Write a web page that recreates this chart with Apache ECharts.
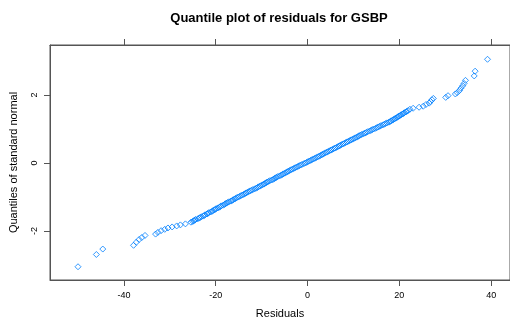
<!DOCTYPE html>
<html>
<head>
<meta charset="utf-8">
<script src="https://cdn.jsdelivr.net/npm/echarts@6/dist/echarts.min.js"></script>
<style>
html,body{margin:0;padding:0;background:#fff;}
#chart{width:510px;height:326px;}
</style>
</head>
<body>
<div id="chart"></div>
<script>
// Sorted residuals (x)
const residuals = [
  -50.0, -46.0, -44.6, -37.9, -37.3, -36.7, -36.1, -35.4, -33.1, -32.6, -31.9, -31.1, -30.4, -29.5, -28.5, -27.7, -26.6,
  -25.4, -25.0, -24.8, -24.6, -24.4, -23.9, -23.6, -23.4, -23.1, -22.7, -22.5, -22.3, -21.9, -21.7, -21.5, -21.1, -20.8, -20.6, -20.3,
  -20.1, -19.9, -19.5, -19.2, -19.0, -18.8, -18.4, -18.1, -17.9, -17.7, -17.4, -17.1, -16.7, -16.4, -16.2, -15.9, -15.7, -15.4,
  -15.1, -14.8, -14.5, -14.2, -13.9, -13.6, -13.4, -13.1, -12.8, -12.5, -12.2, -11.9, -11.5, -11.2, -10.9, -10.7, -10.4, -10.1,
  -9.8, -9.5, -9.3, -9.0, -8.8, -8.5, -8.2, -7.8, -7.5, -7.2, -7.0, -6.8, -6.5, -6.1, -5.8, -5.5, -5.3, -5.0, -4.7, -4.4, -4.2,
  -3.9, -3.6, -3.3, -3.0, -2.7, -2.4, -2.1, -1.8, -1.5, -1.2, -0.8, -0.5, -0.2, 0.1, 0.4, 0.7, 1.0, 1.3, 1.6, 1.9, 2.2, 2.5,
  2.8, 3.1, 3.3, 3.6, 3.9, 4.2, 4.5, 4.8, 5.1, 5.4, 5.7, 6.0, 6.3, 6.6, 6.9, 7.1, 7.4, 7.7, 8.0, 8.3, 8.6, 8.9, 9.2, 9.5, 9.8,
  10.1, 10.4, 10.7, 11.0, 11.2, 11.5, 11.8, 12.2, 12.5, 12.8, 13.1, 13.5, 13.8, 14.1, 14.4,
  14.8, 15.1, 15.4, 15.7, 16.0, 16.4, 16.7, 17.0, 17.3, 17.7, 18.0, 18.2, 18.5, 18.7, 19.0, 19.2, 19.5, 19.7, 19.9, 20.2,
  20.4, 20.7, 20.9, 21.1, 21.4, 21.6, 21.9,
  22.3, 23.0, 24.3, 25.2, 25.8, 26.5, 26.8, 27.1, 27.4, 30.1, 30.6, 32.2, 32.6, 33.1, 33.4, 33.8, 34.1, 34.4, 36.3, 36.5, 39.2
];
// Matching quantiles of the standard normal (y)
const normalQuantiles = [
  -3.05, -2.69, -2.53, -2.42, -2.33, -2.25, -2.19, -2.13, -2.09, -2.04, -1.99, -1.95, -1.91, -1.88, -1.85, -1.82, -1.79,
  -1.74, -1.72, -1.70, -1.68, -1.66, -1.64, -1.62, -1.60, -1.58, -1.56, -1.54, -1.52, -1.50, -1.48, -1.46, -1.44, -1.42, -1.40, -1.38,
  -1.36, -1.34, -1.32, -1.30, -1.28, -1.26, -1.24, -1.22, -1.20, -1.18, -1.16, -1.14, -1.12, -1.10, -1.08, -1.06, -1.04, -1.02,
  -1.00, -0.98, -0.96, -0.94, -0.92, -0.90, -0.88, -0.86, -0.84, -0.82, -0.80, -0.78, -0.76, -0.74, -0.72, -0.70, -0.68, -0.66,
  -0.64, -0.62, -0.60, -0.58, -0.56, -0.54, -0.52, -0.50, -0.48, -0.46, -0.44, -0.42, -0.40, -0.38, -0.36, -0.34, -0.32, -0.30, -0.28, -0.26, -0.24,
  -0.22, -0.20, -0.18, -0.16, -0.14, -0.12, -0.10, -0.08, -0.06, -0.04, -0.02, 0.00, 0.02, 0.04, 0.06, 0.08, 0.10, 0.12, 0.14, 0.16, 0.18, 0.20,
  0.22, 0.24, 0.26, 0.28, 0.30, 0.32, 0.34, 0.36, 0.38, 0.40, 0.42, 0.44, 0.46, 0.48, 0.50, 0.52, 0.54, 0.56, 0.58, 0.60, 0.62, 0.64, 0.66, 0.68, 0.70,
  0.72, 0.74, 0.76, 0.78, 0.80, 0.82, 0.84, 0.86, 0.88, 0.90, 0.92, 0.94, 0.96, 0.98, 1.00,
  1.02, 1.04, 1.06, 1.08, 1.10, 1.12, 1.14, 1.16, 1.18, 1.20, 1.22, 1.24, 1.26, 1.28, 1.30, 1.32, 1.34, 1.36, 1.38, 1.40,
  1.42, 1.44, 1.46, 1.48, 1.50, 1.52, 1.54,
  1.58, 1.61, 1.64, 1.67, 1.72, 1.76, 1.81, 1.86, 1.90, 1.93, 1.98, 2.03, 2.07, 2.13, 2.20, 2.27, 2.34, 2.43, 2.56, 2.70, 3.05
];
const xTicks = [-40, -20, 0, 20, 40];
const yTicks = [-2, 0, 2];

const points = residuals.map((r, i) => [r, normalQuantiles[i]]);
const FONT = '"Liberation Sans", Arial, sans-serif';
const AXIS_COL = '#555555';

const chart = echarts.init(document.getElementById('chart'), null, {renderer: 'canvas'});
chart.setOption({
  animation: false,
  backgroundColor: '#ffffff',
  title: {
    text: 'Quantile plot of residuals for GSBP',
    left: 274, top: 7, textAlign: 'center',
    textStyle: {fontFamily: FONT, fontSize: 13, fontWeight: 'bold', color: '#000'}
  },
  grid: {left: 48, top: 45, right: -1, bottom: 46, show: true, borderColor: AXIS_COL, borderWidth: 1, backgroundColor: 'transparent'},
  xAxis: [{
    type: 'value', min: -56.1, max: 44.1, position: 'bottom',
    name: 'Residuals', nameLocation: 'middle', nameGap: 28,
    nameTextStyle: {fontFamily: FONT, fontSize: 11, color: '#000'},
    axisLine: {show: true, onZero: false, lineStyle: {color: AXIS_COL}},
    axisTick: {show: true, length: 6, customValues: xTicks, lineStyle: {color: AXIS_COL}},
    axisLabel: {show: true, customValues: xTicks, margin: 11, fontFamily: FONT, fontSize: 9, color: '#000'},
    splitLine: {show: false}
  }, {
    type: 'value', min: -56.1, max: 44.1, position: 'top',
    axisLine: {show: true, onZero: false, lineStyle: {color: AXIS_COL}},
    axisTick: {show: true, length: 6, customValues: xTicks, lineStyle: {color: AXIS_COL}},
    axisLabel: {show: false},
    splitLine: {show: false}
  }],
  yAxis: [{
    type: 'value', min: -3.44, max: 3.47, position: 'left',
    name: 'Quantiles of standard normal', nameLocation: 'middle', nameGap: 31, nameRotate: 90,
    nameTextStyle: {fontFamily: FONT, fontSize: 11, color: '#000'},
    axisLine: {show: true, onZero: false, lineStyle: {color: AXIS_COL}},
    axisTick: {show: true, length: 6, customValues: yTicks, lineStyle: {color: AXIS_COL}},
    axisLabel: {show: true, customValues: yTicks, rotate: 90, margin: 11, fontFamily: FONT, fontSize: 9, color: '#000'},
    splitLine: {show: false}
  }],
  series: [{
    type: 'scatter',
    data: points,
    symbol: 'diamond',
    symbolSize: 6,
    itemStyle: {color: 'rgba(0,0,0,0)', borderColor: '#0080ff', borderWidth: 1},
    emphasis: {disabled: true}
  }]
});
</script>
</body>
</html>
